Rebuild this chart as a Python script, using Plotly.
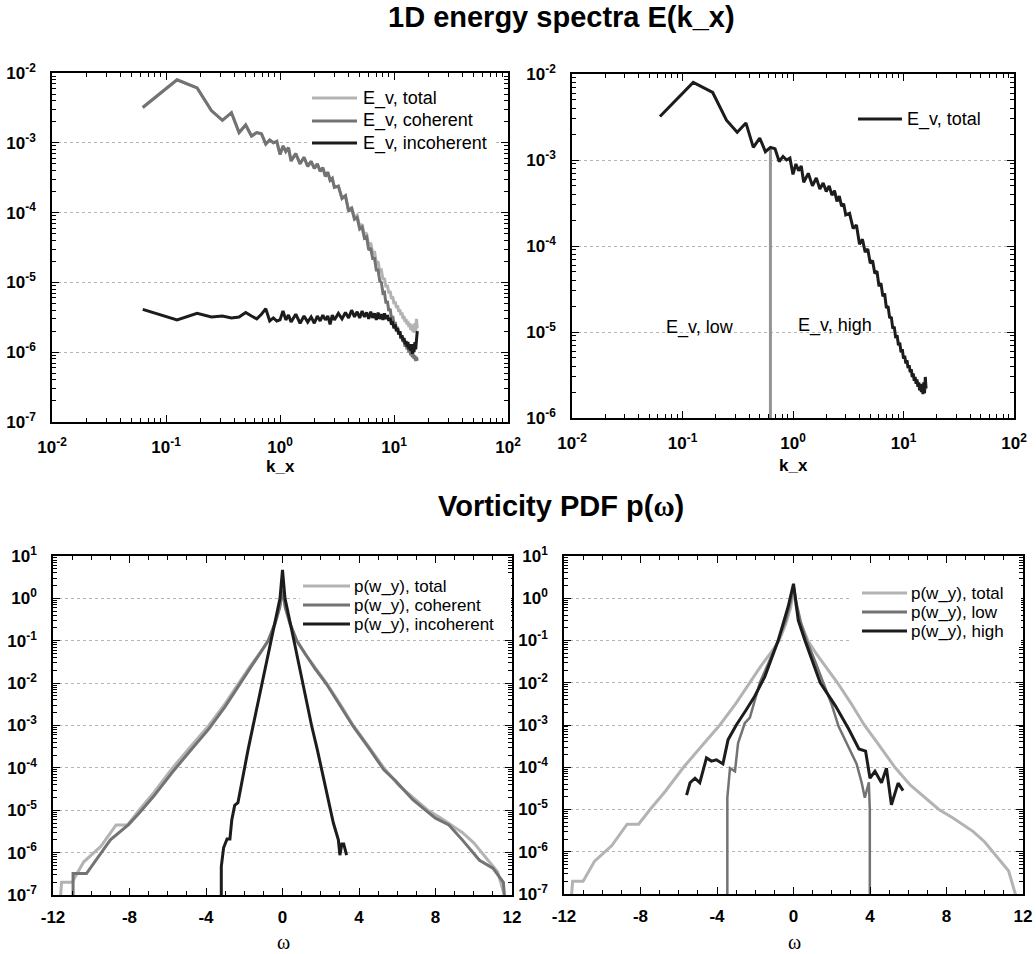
import plotly.graph_objects as go

# ---------------- data: 1D energy spectra ----------------
K = [0.0625, 0.125, 0.1875, 0.25, 0.3125, 0.375, 0.4375, 0.5, 0.5625, 0.625,
     0.6875, 0.75, 0.8125, 0.875, 0.9375, 1.0, 1.0625, 1.125, 1.1875, 1.25,
     1.375, 1.5, 1.625, 1.75, 1.875, 2.0, 2.125, 2.25, 2.375, 2.5, 2.625, 2.75, 2.875, 3.0,
     3.25, 3.5, 3.75, 4.0, 4.25, 4.5, 4.75, 5.0, 5.25, 5.5, 5.75, 6.0, 6.25, 6.5, 6.75, 7.0,
     7.25, 7.5, 7.75, 8.0, 8.25, 8.5, 8.75, 9.0, 9.25, 9.5, 9.75, 10.0, 10.25, 10.5, 10.75,
     11.0, 11.25, 11.5, 11.75, 12.0, 12.25, 12.5, 12.75, 13.0, 13.25, 13.5, 13.75, 14.0,
     14.25, 14.5, 14.75, 15.0, 15.25, 15.5, 15.75, 16.0]

E_COHERENT = [3.2e-3, 8.0e-3, 6.1e-3, 2.9e-3, 2.1e-3, 2.7e-3, 1.4e-3, 1.8e-3, 1.25e-3, 1.4e-3,
              1.35e-3, 9.6e-4, 1.1e-3, 1.0e-3, 1.05e-3, 6.8e-4, 9.0e-4, 7.5e-4, 8.5e-4, 5.5e-4,
              7.0e-4, 5.0e-4, 6.2e-4, 4.6e-4, 5.4e-4, 4.3e-4, 5.0e-4, 3.9e-4, 4.4e-4, 3.3e-4,
              3.8e-4, 2.9e-4, 3.1e-4, 2.3e-4,
              2.4e-4, 1.6e-4, 1.75e-4, 1.05e-4, 1.15e-4, 8.0e-5, 8.5e-5, 5.8e-5, 6.2e-5, 4.3e-5,
              4.5e-5, 2.9e-5, 3.1e-5, 2.2e-5, 2.2e-5, 1.5e-5, 1.5e-5, 1.05e-5, 1.0e-5, 7.0e-6,
              7.2e-6, 5.0e-6, 5.4e-6, 3.9e-6, 4.2e-6, 3.0e-6, 3.3e-6, 2.5e-6, 2.7e-6, 2.1e-6,
              2.3e-6, 1.8e-6, 2.0e-6, 1.55e-6, 1.7e-6, 1.4e-6, 1.5e-6, 1.2e-6, 1.35e-6, 1.1e-6,
              1.2e-6, 1.0e-6, 1.1e-6, 9.0e-7, 1.0e-6, 8.5e-7, 9.5e-7, 8.0e-7, 9.0e-7, 7.5e-7,
              8.5e-7, 7.5e-7]

E_TOTAL = [3.2e-3, 8.0e-3, 6.1e-3, 2.9e-3, 2.1e-3, 2.7e-3, 1.4e-3, 1.8e-3, 1.25e-3, 1.4e-3,
           1.35e-3, 9.6e-4, 1.1e-3, 1.0e-3, 1.05e-3, 6.8e-4, 9.0e-4, 7.5e-4, 8.5e-4, 5.5e-4,
           7.0e-4, 5.0e-4, 6.2e-4, 4.6e-4, 5.4e-4, 4.3e-4, 5.0e-4, 3.9e-4, 4.4e-4, 3.3e-4,
           3.8e-4, 2.9e-4, 3.1e-4, 2.3e-4,
           2.4e-4, 1.6e-4, 1.75e-4, 1.05e-4, 1.2e-4, 8.5e-5, 9.2e-5, 6.3e-5, 6.8e-5, 4.8e-5,
           5.1e-5, 3.4e-5, 3.7e-5, 2.6e-5, 2.8e-5, 1.9e-5, 2.0e-5, 1.45e-5, 1.5e-5, 1.1e-5,
           1.15e-5, 8.5e-6, 9.2e-6, 7.0e-6, 7.5e-6, 5.8e-6, 6.3e-6, 4.9e-6, 5.3e-6, 4.3e-6,
           4.7e-6, 3.8e-6, 4.1e-6, 3.4e-6, 3.7e-6, 3.0e-6, 3.3e-6, 2.7e-6, 3.0e-6, 2.5e-6,
           2.8e-6, 2.3e-6, 2.6e-6, 2.1e-6, 2.5e-6, 2.0e-6, 2.4e-6, 1.9e-6, 2.6e-6, 1.95e-6,
           3.0e-6, 2.2e-6]

E_INCOHERENT = [4.1e-6, 2.9e-6, 3.6e-6, 3.2e-6, 3.3e-6, 3.1e-6, 3.2e-6, 3.7e-6, 3.3e-6, 3.0e-6,
                3.5e-6, 4.2e-6, 2.8e-6, 3.1e-6, 2.8e-6, 2.9e-6, 3.9e-6, 2.9e-6, 3.4e-6, 2.7e-6,
                3.5e-6, 2.6e-6, 3.3e-6, 2.7e-6, 3.2e-6, 2.6e-6, 3.3e-6, 2.8e-6, 3.4e-6, 2.9e-6,
                3.3e-6, 2.5e-6, 3.4e-6, 2.9e-6,
                3.6e-6, 3.0e-6, 3.7e-6, 3.1e-6, 4.0e-6, 3.2e-6, 3.8e-6, 3.1e-6, 3.9e-6, 3.2e-6,
                3.7e-6, 3.0e-6, 3.8e-6, 3.1e-6, 3.6e-6, 2.9e-6, 3.7e-6, 3.0e-6, 3.5e-6, 2.9e-6,
                3.6e-6, 3.0e-6, 3.4e-6, 2.8e-6, 3.1e-6, 2.5e-6, 2.6e-6, 2.2e-6, 2.5e-6, 2.0e-6,
                2.2e-6, 1.8e-6, 2.0e-6, 1.6e-6, 1.75e-6, 1.45e-6, 1.6e-6, 1.3e-6, 1.45e-6, 1.2e-6,
                1.4e-6, 1.1e-6, 1.3e-6, 1.05e-6, 1.3e-6, 9.5e-7, 1.3e-6, 1.0e-6, 1.4e-6, 1.1e-6,
                1.5e-6, 2.0e-6]

K_CUT = 0.625            # low / high separation wavenumber
E_CUT = [1.0e-6, 1.4e-3]  # vertical extent of the cut line

# ---------------- data: vorticity PDFs ----------------
W_TOTAL = [-11.65, -11.55, -11.0, -10.4, -9.5, -8.7, -8.1, -7.5, -6.7, -5.75, -4.8, -3.85,
           -3.0, -2.3, -1.7, -1.2, -0.75, -0.4, -0.15, 0.0, 0.15, 0.4, 0.75, 1.2, 1.7, 2.3,
           3.0, 3.7, 4.5, 5.3, 6.1, 6.8, 7.6, 8.3, 8.8, 9.4, 10.0, 10.5, 10.9, 11.25, 11.6, 11.7]
P_TOTAL = [5e-8, 2e-7, 2e-7, 6e-7, 1.4e-6, 4.5e-6, 4.5e-6, 1.0e-5, 2.7e-5, 1.0e-4, 3.2e-4, 1.0e-3,
           3.3e-3, 1.0e-2, 2.5e-2, 5.0e-2, 1.0e-1, 2.5e-1, 6.0e-1, 1.6, 6.0e-1, 2.5e-1, 1.0e-1,
           4.8e-2, 2.3e-2, 1.0e-2, 3.3e-3, 1.0e-3, 3.2e-4, 1.0e-4, 3.8e-5, 2.0e-5, 1.0e-5,
           6.5e-6, 4.5e-6, 3.0e-6, 1.7e-6, 9.0e-7, 5.5e-7, 3.5e-7, 1.0e-7, 5e-8]

W_COHERENT = [-10.95, -10.95, -10.25, -9.0, -8.05, -7.5, -6.75, -5.75, -4.8, -3.85, -3.0, -2.3,
              -1.7, -1.2, -0.75, -0.4, -0.15, 0.0, 0.15, 0.4, 0.75, 1.2, 1.7, 2.3, 3.0, 3.7,
              4.5, 5.3, 5.9, 6.8, 7.6, 8.0, 8.7, 9.4, 10.3, 11.0, 11.55, 11.65]
P_COHERENT = [5e-8, 3.2e-7, 3.2e-7, 2.0e-6, 4.6e-6, 8.5e-6, 2.1e-5, 8.0e-5, 2.6e-4, 8.3e-4,
              2.8e-3, 8.5e-3, 2.2e-2, 4.6e-2, 1.0e-1, 2.5e-1, 6.0e-1, 1.6, 6.0e-1, 2.5e-1,
              1.0e-1, 4.8e-2, 2.2e-2, 9.5e-3, 3.1e-3, 9.5e-4, 3.0e-4, 9.0e-5, 5.0e-5, 1.8e-5,
              9.0e-6, 6.5e-6, 4.5e-6, 2.0e-6, 6.6e-7, 4.3e-7, 2.0e-7, 5e-8]

W_INCOHERENT = [-3.2, -3.2, -3.08, -2.9, -2.75, -2.65, -2.5, -2.33, -1.8, -1.53, -1.05, -0.58,
                -0.13, 0.0, 0.13, 0.6, 1.05, 1.52, 1.82, 2.4, 2.66, 2.92, 3.0, 3.1, 3.2, 3.35]
P_INCOHERENT = [5e-8, 4.7e-7, 1.3e-6, 2.1e-6, 2.1e-6, 6e-6, 1.3e-5, 1.5e-5, 2.7e-4, 1.0e-3,
                1.0e-2, 1.0e-1, 1.0, 4.7, 1.0, 1.0e-1, 1.0e-2, 1.0e-3, 2.7e-4, 1.6e-5, 5.0e-6,
                2.0e-6, 8.7e-7, 1.6e-6, 1.6e-6, 8.7e-7]

W_LOW = [-3.46, -3.46, -3.32, -3.06, -2.9, -2.55, -2.28, -1.76, -1.3, -0.8, -0.4, -0.15, 0.0,
         0.15, 0.4, 0.69, 1.1, 1.56, 2.0, 2.35, 2.87, 3.3, 3.56, 3.73, 3.94, 3.99, 3.99]
P_LOW = [5e-8, 1.9e-5, 9.5e-5, 8.0e-5, 3.7e-4, 1.1e-3, 1.5e-3, 1.0e-2, 3.0e-2, 1.0e-1, 3.0e-1,
         8.0e-1, 2.0, 8.0e-1, 2.5e-1, 1.0e-1, 3.5e-2, 1.0e-2, 3.0e-3, 9.5e-4, 3.0e-4, 1.2e-4,
         4.4e-5, 1.9e-5, 4.4e-5, 1.0e-5, 5e-8]

W_HIGH = [-5.59, -5.41, -5.15, -4.9, -4.55, -4.29, -4.03, -3.69, -3.42, -2.99, -2.47, -2.03,
          -1.5, -0.8, -0.28, 0.0, 0.25, 0.6, 1.4, 2.2, 2.9, 3.42, 3.77, 4.0, 4.26, 4.6, 4.86,
          5.12, 5.47, 5.73]
P_HIGH = [2.2e-5, 4.3e-5, 5.5e-5, 4.3e-5, 1.66e-4, 1.4e-4, 1.5e-4, 1.2e-4, 4.5e-4, 1.0e-3,
          2.3e-3, 4.8e-3, 1.4e-2, 1.0e-1, 6.3e-1, 2.2, 3.0e-1, 1.0e-1, 1.0e-2, 2.8e-3, 7.8e-4,
          2.7e-4, 2.4e-4, 5.5e-5, 8.0e-5, 4.3e-5, 9.5e-5, 1.3e-5, 4.2e-5, 2.8e-5]

# tick labels
K_DECADES = [-2, -1, 0, 1, 2]
E_DECADES_LEFT = [-7, -6, -5, -4, -3, -2]
E_DECADES_RIGHT = [-6, -5, -4, -3, -2]
P_DECADES = [-7, -6, -5, -4, -3, -2, -1, 0, 1]
OMEGA_TICKS = [-12, -8, -4, 0, 4, 8, 12]
OMEGA_LABELS = ["-12", "-8", "-4", "0", "4", "8", "12"]

# ---------------- styling ----------------
FONT = "Liberation Sans, Arial, Helvetica, sans-serif"
SERIF = "Liberation Serif, Times New Roman, serif"
C_LIGHT = "#b3b3b3"
C_MID = "#737373"
C_DARK = "#1c1c1c"
C_CUT = "#959595"
W_PX, H_PX = 1036, 954


def fx(x):
    return x / W_PX


def fy(y):
    return 1 - y / H_PX


fig = go.Figure()


def line(x, y, ax, color, width):
    fig.add_trace(go.Scatter(x=x, y=y, xaxis="x" + ax, yaxis="y" + ax, mode="lines",
                             line=dict(color=color, width=width), showlegend=False,
                             hoverinfo="skip"))


# top-left
line(K, E_TOTAL, "", C_LIGHT, 3)
line(K, E_COHERENT, "", C_MID, 3)
line(K, E_INCOHERENT, "", C_DARK, 3)
# top-right
line([K_CUT, K_CUT], E_CUT, "2", C_CUT, 3)
line(K, E_TOTAL, "2", C_DARK, 3)
# bottom-left
line(W_TOTAL, P_TOTAL, "3", C_LIGHT, 3)
line(W_COHERENT, P_COHERENT, "3", C_MID, 3)
line(W_INCOHERENT, P_INCOHERENT, "3", C_DARK, 3)
# bottom-right
line(W_TOTAL, P_TOTAL, "4", C_LIGHT, 3)
line(W_LOW, P_LOW, "4", C_MID, 2.5)
line(W_HIGH, P_HIGH, "4", C_DARK, 3)

tickfont = dict(family=FONT, size=17, color="black", weight="bold")


def base_axis(domain, anchor, standoff):
    return dict(domain=domain, anchor=anchor, showline=True, linecolor="black", linewidth=1.5,
                mirror="ticks", ticks="inside", ticklen=7, tickwidth=1, tickcolor="black",
                tickfont=tickfont, zeroline=False, ticklabelstandoff=standoff,
                automargin=False, fixedrange=True)


def log_axis(domain, anchor, decades, grid, standoff):
    d = base_axis(domain, anchor, standoff)
    d.update(type="log", range=[decades[0], decades[-1]], tickmode="array",
             tickvals=[10.0 ** e for e in decades],
             ticktext=["10<sup>%d</sup>" % e for e in decades],
             showgrid=grid, gridcolor="#b5b5b5", griddash="dot", gridwidth=1,
             minor=dict(ticks="inside", ticklen=4, tickcolor="black", dtick="D1", showgrid=False))
    return d


def lin_axis(domain, anchor, standoff):
    d = base_axis(domain, anchor, standoff)
    d.update(type="linear", range=[-12, 12], tickmode="array", tickvals=OMEGA_TICKS,
             ticktext=OMEGA_LABELS, showgrid=False,
             minor=dict(ticks="inside", ticklen=4, tickcolor="black", dtick=1, showgrid=False))
    return d


D_TL = ([fx(52), fx(508)], [fy(422), fy(73)])
D_TR = ([fx(572), fx(1014)], [fy(418), fy(74)])
D_BL = ([fx(53), fx(512)], [fy(895), fy(556)])
D_BR = ([fx(564), fx(1023)], [fy(894), fy(556)])

fig.update_layout(
    template="none",
    width=W_PX, height=H_PX, margin=dict(l=0, r=0, t=0, b=0, pad=0),
    font=dict(family=FONT, color="black"),
    paper_bgcolor="white", plot_bgcolor="white", showlegend=False,
    xaxis=log_axis(D_TL[0], "y", K_DECADES, False, 9),
    yaxis=log_axis(D_TL[1], "x", E_DECADES_LEFT, True, 11),
    xaxis2=log_axis(D_TR[0], "y2", K_DECADES, False, 9),
    yaxis2=log_axis(D_TR[1], "x2", E_DECADES_RIGHT, True, 11),
    xaxis3=lin_axis(D_BL[0], "y3", 6),
    yaxis3=log_axis(D_BL[1], "x3", P_DECADES, True, 11),
    xaxis4=lin_axis(D_BR[0], "y4", 6),
    yaxis4=log_axis(D_BR[1], "x4", P_DECADES, True, 11),
)

shapes = []
annotations = []


def text(x, y, s, size, bold=False, family=FONT, xanchor="left"):
    annotations.append(dict(x=fx(x), y=fy(y), xref="paper", yref="paper", text=s,
                            showarrow=False, xanchor=xanchor, yanchor="middle",
                            font=dict(family=family, size=size, color="black",
                                      weight="bold" if bold else "normal")))


def legend(box, x0, x1, tx, rows, size):
    bx0, by0, bx1, by1 = box
    shapes.append(dict(type="rect", xref="paper", yref="paper", x0=fx(bx0), x1=fx(bx1),
                       y0=fy(by1), y1=fy(by0), fillcolor="white", line=dict(width=0),
                       layer="above"))
    for (yy, color, width, label) in rows:
        shapes.append(dict(type="line", xref="paper", yref="paper", x0=fx(x0), x1=fx(x1),
                           y0=fy(yy), y1=fy(yy), line=dict(color=color, width=width),
                           layer="above"))
        text(tx, yy, label, size)


legend((308, 85, 495, 155), 312, 357, 361,
       [(98, C_LIGHT, 3, "E_v, total"), (121, C_MID, 3, "E_v, coherent"),
        (143, C_DARK, 3, "E_v, incoherent")], 18)
legend((852, 105, 985, 133), 858, 902, 905, [(119, C_DARK, 3, "E_v, total")], 18)
legend((300, 576, 511, 636), 303, 350, 352,
       [(586, C_LIGHT, 3, "p(w_y), total"), (605, C_MID, 3, "p(w_y), coherent"),
        (624, C_DARK, 3, "p(w_y), incoherent")], 17)
legend((852, 582, 1021, 646), 862, 907, 909,
       [(593, C_LIGHT, 3, "p(w_y), total"), (612, C_MID, 3, "p(w_y), low"),
        (631, C_DARK, 3, "p(w_y), high")], 17)

# region labels in the right spectrum panel
text(700, 327, "E_v, low", 18, xanchor="center")
text(835, 325, "E_v, high", 18, xanchor="center")

# titles
text(561, 17, "1D energy spectra E(k_x)", 29, bold=True, xanchor="center")
text(561, 506, "Vorticity PDF p(<span style='font-family:" + SERIF + "'>ω</span>)", 29,
     bold=True, xanchor="center")

# axis titles
text(280, 467, "k_x", 17, bold=True, xanchor="center")
text(793, 465, "k_x", 17, bold=True, xanchor="center")
text(283, 942, "ω", 20, family=SERIF, xanchor="center")
text(794, 942, "ω", 20, family=SERIF, xanchor="center")

fig.update_layout(shapes=shapes, annotations=annotations)

# let the figure fill the page exactly (no default body margin), no mode bar
fig.write_html("out.html", config={"displayModeBar": False},
               post_script="document.body.style.margin='0px';"
                           "document.body.style.overflow='hidden';")
